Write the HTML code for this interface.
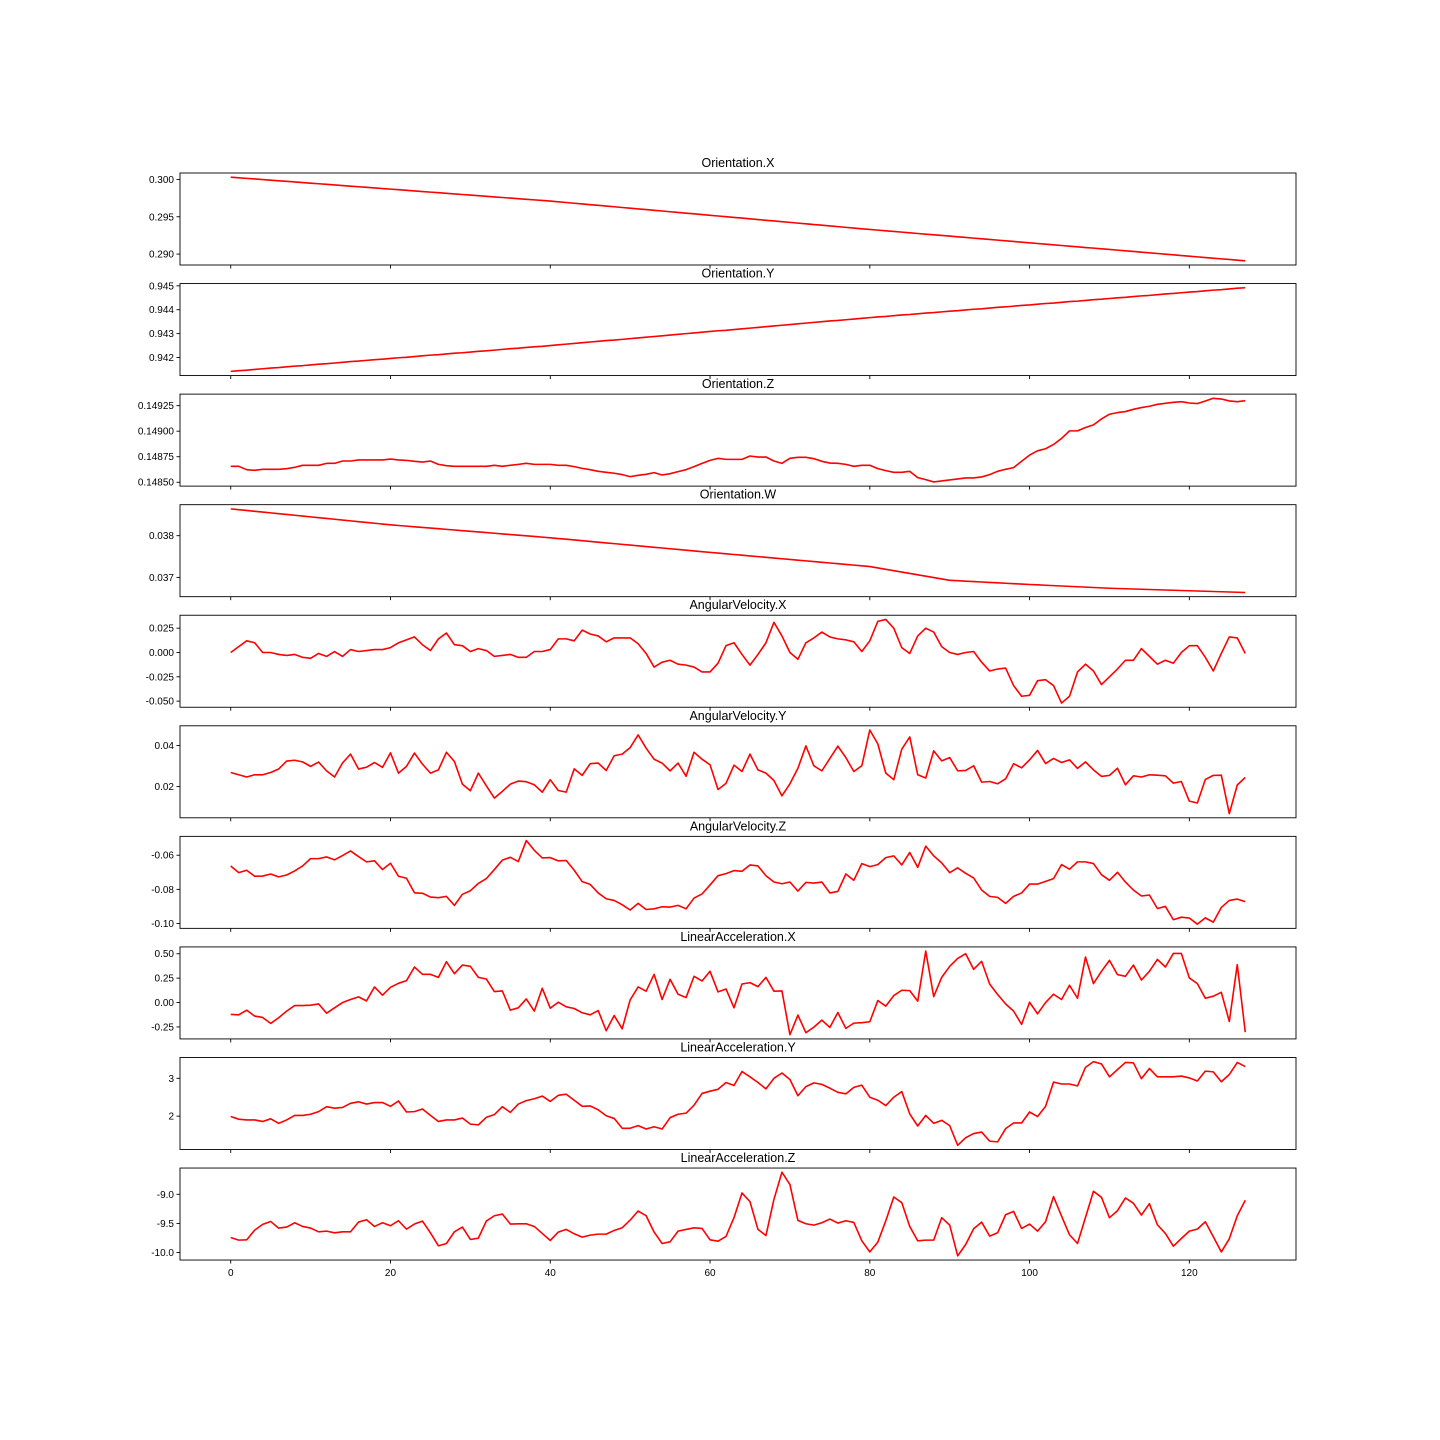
<!DOCTYPE html>
<html><head><meta charset="utf-8"><style>html,body{margin:0;padding:0;background:#fff}svg{display:block}</style></head>
<body>
<svg id="chart" width="1440" height="1440" xmlns="http://www.w3.org/2000/svg" font-family="'Liberation Sans', 'DejaVu Sans', sans-serif"></svg>
<script>
const titles = ["Orientation.X","Orientation.Y","Orientation.Z","Orientation.W","AngularVelocity.X","AngularVelocity.Y","AngularVelocity.Z","LinearAcceleration.X","LinearAcceleration.Y","LinearAcceleration.Z"];
const xTicks = [0,20,40,60,80,100,120];
const ticksOX = [0.290,0.295,0.300];
const labelsOX = ["0.290","0.295","0.300"];
const ticksOY = [0.942,0.943,0.944,0.945];
const labelsOY = ["0.942","0.943","0.944","0.945"];
const ticksOZ = [0.1485,0.14875,0.149,0.14925];
const labelsOZ = ["0.14850","0.14875","0.14900","0.14925"];
const ticksOW = [0.037,0.038];
const labelsOW = ["0.037","0.038"];
const ticksAVX = [-0.05,-0.025,0,0.025];
const labelsAVX = ["-0.050","-0.025","0.000","0.025"];
const ticksAVY = [0.02,0.04];
const labelsAVY = ["0.02","0.04"];
const ticksAVZ = [-0.1,-0.08,-0.06];
const labelsAVZ = ["-0.10","-0.08","-0.06"];
const ticksLAX = [-0.25,0,0.25,0.5];
const labelsLAX = ["-0.25","0.00","0.25","0.50"];
const ticksLAY = [2,3];
const labelsLAY = ["2","3"];
const ticksLAZ = [-10,-9.5,-9];
const labelsLAZ = ["-10.0","-9.5","-9.0"];

const orientX = [.30030,.30022,.30014,.30006,.29998,.29990,.29982,.29974,.29966,.29958,.29950,.29942,.29934,.29926,.29918,.29910,.29902,.29894,.29886,.29878,.29870,.29862,.29854,.29846,.29838,.29830,.29822,.29814,.29806,.29798,.29790,.29782,.29774,.29766,.29758,.29750,.29742,.29734,.29726,.29718,.29710,.29700,.29691,.29681,.29672,.29662,.29653,.29643,.29634,.29624,.29615,.29605,.29596,.29586,.29577,.29567,.29558,.29548,.29539,.29529,.29520,.29510,.29501,.29491,.29482,.29472,.29463,.29453,.29444,.29434,.29425,.29415,.29406,.29396,.29387,.29377,.29368,.29358,.29349,.29339,.29330,.29321,.29312,.29303,.29294,.29285,.29276,.29267,.29258,.29250,.29241,.29232,.29223,.29214,.29205,.29196,.29187,.29178,.29169,.29160,.29151,.29142,.29133,.29124,.29115,.29106,.29097,.29088,.29080,.29071,.29062,.29053,.29044,.29035,.29026,.29017,.29008,.28999,.28990,.28981,.28972,.28963,.28954,.28945,.28936,.28928,.28919,.28910];
const orientY = [.94142,.94145,.94147,.94150,.94153,.94156,.94158,.94161,.94164,.94166,.94169,.94172,.94174,.94177,.94180,.94183,.94185,.94188,.94191,.94193,.94196,.94199,.94201,.94204,.94207,.94210,.94212,.94215,.94218,.94220,.94223,.94226,.94228,.94231,.94234,.94237,.94239,.94242,.94245,.94247,.94250,.94253,.94256,.94259,.94262,.94265,.94268,.94271,.94273,.94276,.94279,.94282,.94285,.94288,.94291,.94294,.94297,.94300,.94303,.94306,.94309,.94312,.94314,.94317,.94320,.94323,.94326,.94329,.94332,.94335,.94338,.94341,.94344,.94347,.94350,.94353,.94355,.94358,.94361,.94364,.94367,.94370,.94372,.94375,.94378,.94380,.94383,.94386,.94388,.94391,.94394,.94396,.94399,.94402,.94404,.94407,.94410,.94412,.94415,.94418,.94420,.94423,.94426,.94428,.94431,.94434,.94436,.94439,.94442,.94444,.94447,.94450,.94452,.94455,.94458,.94460,.94463,.94466,.94468,.94471,.94474,.94476,.94479,.94482,.94484,.94487,.94490,.94492];
const orientZ = [.148656,.148656,.148623,.148617,.148627,.148627,.148627,.148633,.148646,.148666,.148666,.148666,.148685,.148685,.148708,.148708,.148718,.148718,.148718,.148718,.148727,.148718,.148714,.148705,.148698,.148708,.148675,.148662,.148656,.148656,.148656,.148656,.148656,.148666,.148656,.148666,.148675,.148685,.148675,.148675,.148675,.148666,.148666,.148653,.148636,.148623,.148607,.148597,.148588,.148575,.148555,.148568,.148578,.148594,.148571,.148584,.148604,.148623,.148653,.148685,.148714,.148734,.148724,.148724,.148724,.148757,.148747,.148747,.148708,.148685,.148734,.148744,.148744,.148731,.148705,.148688,.148685,.148675,.148656,.148666,.148666,.148633,.148614,.148597,.148597,.148607,.148545,.148526,.148503,.148513,.148523,.148532,.148542,.148542,.148552,.148575,.148607,.148627,.148643,.148705,.148766,.148808,.148828,.148870,.148929,.149003,.149003,.149036,.149062,.149120,.149166,.149182,.149192,.149214,.149231,.149244,.149263,.149273,.149283,.149289,.149276,.149270,.149296,.149322,.149315,.149296,.149289,.149299];
const orientW = [.038643,.038624,.038605,.038585,.038566,.038547,.038528,.038509,.038490,.038470,.038451,.038432,.038413,.038394,.038374,.038355,.038336,.038317,.038298,.038279,.038260,.038244,.038229,.038213,.038198,.038182,.038167,.038151,.038136,.038120,.038105,.038089,.038074,.038058,.038043,.038027,.038012,.037996,.037981,.037965,.037950,.037932,.037915,.037897,.037880,.037862,.037845,.037827,.037810,.037792,.037775,.037757,.037740,.037722,.037705,.037687,.037670,.037652,.037635,.037617,.037600,.037583,.037566,.037549,.037532,.037515,.037498,.037481,.037464,.037447,.037430,.037413,.037396,.037379,.037362,.037345,.037328,.037311,.037294,.037277,.037260,.037227,.037194,.037161,.037128,.037095,.037062,.037029,.036996,.036963,.036930,.036920,.036910,.036900,.036890,.036880,.036870,.036860,.036850,.036840,.036830,.036821,.036812,.036803,.036794,.036785,.036776,.036767,.036758,.036749,.036740,.036734,.036728,.036722,.036716,.036710,.036704,.036698,.036692,.036686,.036680,.036674,.036668,.036662,.036656,.036650,.036644,.036638];
const angVelX = [0.000,0.006,0.012,0.010,0.000,0.000,-0.002,-0.003,-0.002,-0.005,-0.006,-0.001,-0.004,0.001,-0.004,0.003,0.001,0.002,0.003,0.003,0.005,0.010,0.013,0.016,0.008,0.002,0.014,0.020,0.008,0.007,0.001,0.004,0.002,-0.004,-0.003,-0.002,-0.005,-0.005,0.001,0.001,0.003,0.014,0.014,0.012,0.023,0.019,0.017,0.011,0.015,0.015,0.015,0.009,-0.001,-0.015,-0.010,-0.008,-0.012,-0.013,-0.015,-0.020,-0.020,-0.011,0.007,0.010,-0.002,-0.013,-0.002,0.010,0.031,0.017,0.000,-0.007,0.010,0.015,0.021,0.016,0.014,0.013,0.011,0.001,0.012,0.032,0.034,0.025,0.005,-0.001,0.017,0.025,0.021,0.006,0.000,-0.002,0.000,0.001,-0.010,-0.019,-0.017,-0.016,-0.034,-0.045,-0.044,-0.029,-0.028,-0.034,-0.052,-0.045,-0.020,-0.012,-0.019,-0.033,-0.025,-0.017,-0.008,-0.008,0.004,-0.004,-0.012,-0.008,-0.011,0.000,0.007,0.007,-0.005,-0.019,-0.001,0.016,0.015,-0.001];
const angVelY = [0.0268,0.0257,0.0246,0.0257,0.0257,0.0268,0.0285,0.0324,0.0328,0.0320,0.0298,0.0319,0.0276,0.0246,0.0315,0.0358,0.0285,0.0294,0.0317,0.0293,0.0364,0.0265,0.0298,0.0363,0.0309,0.0265,0.0281,0.0367,0.0322,0.0211,0.0179,0.0265,0.0203,0.0143,0.0176,0.0211,0.0226,0.0223,0.0208,0.0172,0.0233,0.0180,0.0172,0.0286,0.0254,0.0311,0.0314,0.0278,0.0350,0.0358,0.0390,0.0452,0.0387,0.0333,0.0314,0.0276,0.0314,0.0250,0.0367,0.0333,0.0306,0.0185,0.0215,0.0304,0.0273,0.0358,0.0281,0.0265,0.0229,0.0154,0.0213,0.0289,0.0398,0.0301,0.0276,0.0337,0.0397,0.0341,0.0273,0.0301,0.0476,0.0408,0.0265,0.0233,0.0382,0.0442,0.0257,0.0241,0.0374,0.0325,0.0341,0.0276,0.0278,0.0301,0.0221,0.0224,0.0213,0.0237,0.0311,0.0291,0.0330,0.0376,0.0312,0.0337,0.0317,0.0330,0.0288,0.0320,0.0281,0.0249,0.0254,0.0289,0.0208,0.0252,0.0246,0.0257,0.0255,0.0252,0.0216,0.0224,0.0128,0.0119,0.0234,0.0254,0.0255,0.0067,0.0207,0.0244];
const angVelZ = [-0.0663,-0.0702,-0.0688,-0.0723,-0.0722,-0.0710,-0.0727,-0.0716,-0.0692,-0.0663,-0.0620,-0.0620,-0.0610,-0.0627,-0.0602,-0.0575,-0.0608,-0.0639,-0.0633,-0.0684,-0.0647,-0.0723,-0.0735,-0.0820,-0.0823,-0.0845,-0.0849,-0.0841,-0.0894,-0.0829,-0.0808,-0.0765,-0.0737,-0.0684,-0.0629,-0.0612,-0.0637,-0.0514,-0.0571,-0.0616,-0.0614,-0.0633,-0.0631,-0.0688,-0.0755,-0.0771,-0.0821,-0.0855,-0.0865,-0.0890,-0.0921,-0.0882,-0.0918,-0.0914,-0.0902,-0.0904,-0.0894,-0.0914,-0.0851,-0.0827,-0.0774,-0.0720,-0.0708,-0.0690,-0.0694,-0.0657,-0.0663,-0.0720,-0.0757,-0.0767,-0.0757,-0.0810,-0.0759,-0.0763,-0.0757,-0.0821,-0.0812,-0.0710,-0.0747,-0.0649,-0.0667,-0.0655,-0.0614,-0.0604,-0.0657,-0.0584,-0.0671,-0.0547,-0.0604,-0.0645,-0.0702,-0.0674,-0.0706,-0.0733,-0.0804,-0.0841,-0.0847,-0.0882,-0.0841,-0.0821,-0.0769,-0.0769,-0.0753,-0.0737,-0.0655,-0.0682,-0.0639,-0.0639,-0.0649,-0.0714,-0.0747,-0.0700,-0.0757,-0.0804,-0.0839,-0.0833,-0.0912,-0.0900,-0.0978,-0.0963,-0.0968,-0.1004,-0.0967,-0.0992,-0.0906,-0.0865,-0.0857,-0.0872];
const linAccX = [-0.122,-0.126,-0.078,-0.139,-0.153,-0.214,-0.156,-0.088,-0.031,-0.031,-0.027,-0.014,-0.109,-0.054,0.000,0.031,0.058,0.017,0.160,0.075,0.156,0.197,0.224,0.364,0.289,0.289,0.258,0.418,0.296,0.384,0.371,0.258,0.241,0.112,0.119,-0.078,-0.054,0.037,-0.088,0.146,-0.058,0.003,-0.044,-0.061,-0.105,-0.126,-0.082,-0.289,-0.133,-0.269,0.027,0.160,0.116,0.289,0.031,0.238,0.085,0.051,0.269,0.221,0.320,0.109,0.139,-0.054,0.190,0.204,0.163,0.258,0.116,0.119,-0.330,-0.129,-0.309,-0.252,-0.180,-0.255,-0.102,-0.265,-0.211,-0.207,-0.197,0.020,-0.037,0.071,0.126,0.122,0.014,0.527,0.061,0.258,0.371,0.452,0.500,0.340,0.422,0.190,0.082,-0.014,-0.088,-0.224,0.003,-0.116,0.000,0.085,0.031,0.177,0.044,0.466,0.194,0.320,0.432,0.286,0.269,0.384,0.231,0.320,0.442,0.364,0.503,0.503,0.252,0.194,0.044,0.065,0.105,-0.194,0.388,-0.303];
const linAccY = [1.99,1.92,1.90,1.90,1.86,1.93,1.81,1.90,2.02,2.02,2.05,2.12,2.25,2.21,2.23,2.34,2.38,2.32,2.36,2.36,2.26,2.40,2.11,2.12,2.19,2.02,1.86,1.90,1.90,1.95,1.79,1.77,1.97,2.04,2.25,2.10,2.32,2.41,2.46,2.53,2.39,2.55,2.58,2.42,2.26,2.27,2.17,2.01,1.94,1.68,1.68,1.75,1.66,1.72,1.66,1.96,2.05,2.08,2.29,2.60,2.66,2.71,2.89,2.81,3.18,3.04,2.89,2.72,3.00,3.14,2.97,2.54,2.78,2.88,2.84,2.74,2.63,2.59,2.76,2.82,2.50,2.42,2.28,2.50,2.65,2.06,1.74,2.02,1.81,1.89,1.75,1.23,1.43,1.54,1.58,1.34,1.32,1.67,1.82,1.82,2.11,1.99,2.26,2.90,2.85,2.85,2.80,3.29,3.44,3.38,3.04,3.23,3.42,3.41,2.99,3.26,3.04,3.04,3.04,3.06,3.01,2.93,3.19,3.17,2.91,3.10,3.42,3.31];
const linAccZ = [-9.741,-9.787,-9.782,-9.615,-9.517,-9.466,-9.580,-9.563,-9.489,-9.552,-9.580,-9.644,-9.632,-9.661,-9.644,-9.644,-9.477,-9.437,-9.552,-9.489,-9.540,-9.454,-9.598,-9.511,-9.460,-9.661,-9.885,-9.845,-9.644,-9.563,-9.776,-9.753,-9.460,-9.368,-9.339,-9.511,-9.506,-9.506,-9.552,-9.672,-9.793,-9.649,-9.603,-9.678,-9.736,-9.701,-9.684,-9.684,-9.621,-9.575,-9.443,-9.287,-9.368,-9.649,-9.845,-9.816,-9.632,-9.603,-9.575,-9.586,-9.782,-9.805,-9.724,-9.400,-8.977,-9.126,-9.603,-9.707,-9.086,-8.621,-8.833,-9.448,-9.506,-9.529,-9.489,-9.425,-9.494,-9.454,-9.483,-9.799,-9.989,-9.822,-9.454,-9.046,-9.144,-9.552,-9.799,-9.787,-9.787,-9.402,-9.529,-10.057,-9.862,-9.592,-9.477,-9.718,-9.661,-9.351,-9.293,-9.586,-9.511,-9.632,-9.471,-9.040,-9.374,-9.695,-9.845,-9.397,-8.948,-9.052,-9.402,-9.282,-9.063,-9.155,-9.356,-9.161,-9.523,-9.672,-9.891,-9.759,-9.632,-9.598,-9.471,-9.730,-9.989,-9.764,-9.368,-9.103];

const series = [orientX,orientY,orientZ,orientW,angVelX,angVelY,angVelZ,linAccX,linAccY,linAccZ];
const yTicks = [ticksOX,ticksOY,ticksOZ,ticksOW,ticksAVX,ticksAVY,ticksAVZ,ticksLAX,ticksLAY,ticksLAZ];
const yLabels = [labelsOX,labelsOY,labelsOZ,labelsOW,labelsAVX,labelsAVY,labelsAVZ,labelsLAX,labelsLAY,labelsLAZ];
const names = ["orientation-x","orientation-y","orientation-z","orientation-w","angular-velocity-x","angular-velocity-y","angular-velocity-z","linear-acceleration-x","linear-acceleration-y","linear-acceleration-z"];

const NS = "http://www.w3.org/2000/svg";
const svg = document.getElementById("chart");
const L = 180, R = 1296, H = 92, TOP0 = 173, STEP = 110.56;
function mk(tag, attrs, parent) {
  const e = document.createElementNS(NS, tag);
  for (const k in attrs) e.setAttribute(k, attrs[k]);
  parent.appendChild(e);
  return e;
}
function xScale(i, n) {
  const xmin = -0.05 * (n - 1), xmax = (n - 1) * 1.05;
  return L + (i - xmin) / (xmax - xmin) * (R - L);
}
series.forEach((data, k) => {
  const top = TOP0 + STEP * k;
  const n = data.length;
  let mn = Math.min(...data), mx = Math.max(...data);
  const pad = (mx - mn) * 0.05;
  const lo = mn - pad, hi = mx + pad;
  const yScale = v => top + H - (v - lo) / (hi - lo) * H;

  const g = mk("g", {}, svg);
  
  

  const t = mk("text", {x: (L + R) / 2, y: top - 6, "text-anchor": "middle", "font-size": "12.5", fill: "#000"}, g);
  t.textContent = titles[k];
  
  

  const pts = data.map((v, i) => xScale(i, n).toFixed(2) + "," + yScale(v).toFixed(2)).join(" ");
  const line = mk("polyline", {points: pts, fill: "none", stroke: "#ff0000", "stroke-width": "1.6", "stroke-linejoin": "round"}, g);
  
  

  const frame = mk("rect", {x: L, y: top, width: R - L, height: H, fill: "none", stroke: "#000", "stroke-width": "0.9"}, g);
  
  

  yTicks[k].forEach((tv, j) => {
    const y = yScale(tv);
    mk("line", {x1: L - 3.5, x2: L, y1: y, y2: y, stroke: "#000", "stroke-width": "0.9"}, g);
    const tl = mk("text", {x: L - 6, y: y + 3.5, "text-anchor": "end", "font-size": "10", fill: "#000"}, g);
    tl.textContent = yLabels[k][j];
    
    
  });
  xTicks.forEach(xv => {
    const x = xScale(xv, n);
    mk("line", {x1: x, x2: x, y1: top + H, y2: top + H + 3.5, stroke: "#000", "stroke-width": "0.9"}, g);
    if (k === series.length - 1) {
      const xl = mk("text", {x: x, y: top + H + 16, "text-anchor": "middle", "font-size": "10", fill: "#000"}, g);
      xl.textContent = String(xv);
      
      
    }
  });
});
</script>
</body></html>
